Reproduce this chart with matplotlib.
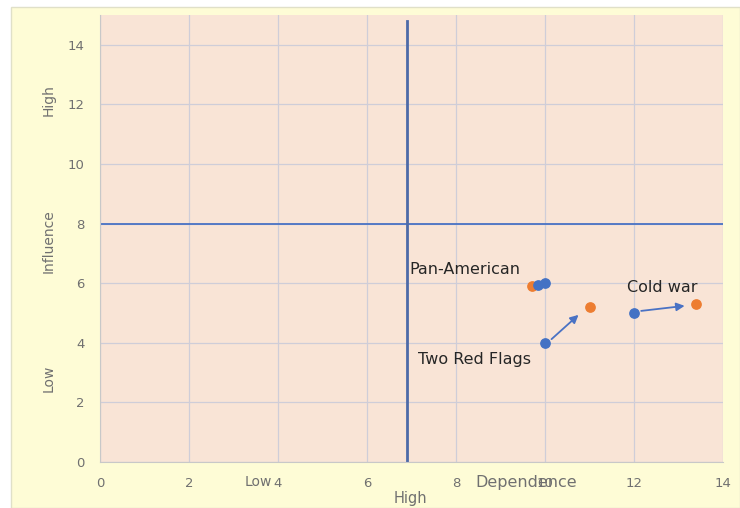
import matplotlib.pyplot as plt
from matplotlib.patches import Rectangle

# data
before_x = [10.0, 9.85, 10.0, 12.0]
before_y = [6.0, 5.95, 4.0, 5.0]
after_x = [9.7, 11.0, 13.4]
after_y = [5.9, 5.2, 5.3]
arrows = [((10.0, 4.0), (11.0, 5.2)), ((12.0, 5.0), (13.4, 5.3))]
labels = ["Pan-American", "Two Red Flags", "Cold war"]
label_pos = [(6.95, 6.45), (7.15, 3.45), (11.85, 5.85)]
split_x = 6.9
split_y = 8
xticks = [0, 2, 4, 6, 8, 10, 12, 14]
yticks = [0, 2, 4, 6, 8, 10, 12, 14]


def main():
	fig = plt.figure(figsize=(7.4, 5.08), dpi=100, facecolor='white')
	fig.patches.append(Rectangle((11/740, 0), 1 - 11/740, 1 - 7/508,
		transform=fig.transFigure, facecolor='#fefcd6', edgecolor='#e0e0c8', zorder=0))
	ax = fig.add_axes([100/740, 1 - 462/508, 623/740, 447/508])
	ax.set_zorder(2)
	ax.set_facecolor('#f9e4d6')
	ax.set_xlim(0, 14)
	ax.set_ylim(0, 15)
	ax.set_xticks(xticks)
	ax.set_yticks(yticks)
	ax.grid(True, color='#cfcdd8', linewidth=0.9)
	ax.set_axisbelow(True)
	ax.tick_params(length=0, labelsize=9.5, labelcolor='#707070', pad=11)
	for s in ax.spines.values():
		s.set_color('#c8c8c8')
	ax.spines['top'].set_visible(False)
	ax.spines['right'].set_visible(False)

	ax.axhline(split_y, color='#4a72c4', linewidth=1.3)
	ax.plot([split_x, split_x], [0, 14.8], color='#4d6aa8', linewidth=2)

	for (x0, y0), (x1, y1) in arrows:
		ax.annotate('', xy=(x1 - 0.2, y1 - 0.05 if y1 - y0 < 0.5 else y1 - 0.2), xytext=(x0 + 0.1, y0 + 0.06),
			arrowprops=dict(arrowstyle='-|>', color='#4a72c4', lw=1.3, mutation_scale=12))

	ax.scatter(after_x, after_y, s=45, color='#ed7d31', zorder=3)
	ax.scatter(before_x, before_y, s=45, color='#4472c4', zorder=4)

	for t, (x, y) in zip(labels, label_pos):
		ax.text(x, y, t, fontsize=11.5, color='#262626', va='center')

	# axis words placed like the original
	fig.text(272/740, 1 - 482/508, 'Low', fontsize=10, color='#707070', ha='right', va='center')
	fig.text(526/740, 1 - 482/508, 'Dependence', fontsize=11.5, color='#707070', ha='center', va='center')
	fig.text(410/740, 1 - 498/508, 'High', fontsize=10.5, color='#707070', ha='center', va='center')
	fig.text(49/740, 1 - 100/508, 'High', fontsize=10, color='#707070', ha='center', va='center', rotation=90)
	fig.text(49/740, 1 - 241/508, 'Influence', fontsize=10, color='#707070', ha='center', va='center', rotation=90)
	fig.text(49/740, 1 - 378/508, 'Low', fontsize=10, color='#707070', ha='center', va='center', rotation=90)

	fig.savefig('out.png', dpi=100)


if __name__ == "__main__":
	main()
